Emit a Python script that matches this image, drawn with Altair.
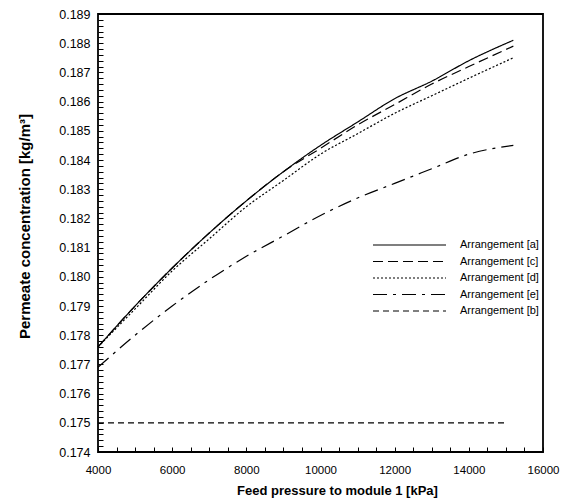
import altair as alt
import numpy as np
import pandas as pd

# ---- data ----
pressure = [4000, 5000, 6000, 7000, 8000, 9000, 10000, 11000, 12000, 13000, 14000, 15200]
conc_a = [0.1776, 0.1790, 0.1803, 0.1815, 0.1826, 0.1836, 0.1845, 0.1853, 0.1861, 0.1867, 0.1874, 0.1881]
conc_c = [0.1776, 0.1790, 0.1803, 0.1815, 0.1826, 0.1836, 0.1844, 0.1852, 0.1859, 0.1866, 0.1872, 0.1879]
conc_d = [0.1776, 0.1789, 0.1802, 0.1813, 0.1824, 0.1833, 0.1842, 0.1849, 0.1856, 0.1862, 0.1868, 0.1875]
conc_e = [0.1769, 0.1780, 0.1790, 0.1799, 0.1807, 0.1814, 0.1821, 0.1827, 0.1832, 0.1837, 0.1842, 0.1845]
pressure_b = [4000, 15000]
conc_b = [0.1750, 0.1750]

series_names = ["Arrangement [a]", "Arrangement [c]", "Arrangement [d]",
                "Arrangement [e]", "Arrangement [b]"]
dash_styles = [[1, 0], [10, 5], [2, 2], [14, 6, 3, 6], [6, 4]]

# tick positions (labels shown on major ones only)
x_ticks = [int(v) for v in np.arange(4000, 16001, 500)]
y_ticks = [round(float(v), 4) for v in np.arange(0.174, 0.18901, 0.0002)]

rows = []
for name, vals in zip(series_names[:4], [conc_a, conc_c, conc_d, conc_e]):
    for p, v in zip(pressure, vals):
        rows.append({"series": name, "pressure": p, "conc": v})
for p, v in zip(pressure_b, conc_b):
    rows.append({"series": series_names[4], "pressure": p, "conc": v})
df = pd.DataFrame(rows)

xscale = alt.Scale(domain=[4000, 16000], nice=False, zero=False)
yscale = alt.Scale(domain=[0.174, 0.189], nice=False, zero=False)
FONT = "Liberation Sans"
TICK = 5

x_axis = alt.Axis(orient="bottom", values=x_ticks, offset=-TICK, tickSize=TICK,
                  tickColor="black", tickWidth=1, ticks=True, domain=False, zindex=1,
                  labelExpr="datum.value % 2000 === 0 ? format(datum.value, 'd') : ''",
                  labelPadding=12, labelFontSize=11.5, labelFont=FONT,
                  labelColor="black", labelFlush=False, labelOverlap=False,
                  title="Feed pressure to module 1 [kPa]", titleFont=FONT,
                  titleFontSize=13, titleFontWeight="bold",
                  titleX=239, titleY=38 + TICK, titleBaseline="middle",
                  titleColor="black", grid=False)
y_axis = alt.Axis(orient="left", values=y_ticks, offset=-TICK, tickSize=TICK,
                  tickColor="black", tickWidth=1, ticks=True, domain=False, zindex=1,
                  labelExpr="abs(datum.value * 1000 - round(datum.value * 1000)) < 0.001 ? format(datum.value, '.3f') : ''",
                  labelPadding=8, labelFontSize=12.5, labelFont=FONT,
                  labelColor="black", labelFlush=False, labelOverlap=False,
                  title="Permeate concentration [kg/m³]", titleFont=FONT,
                  titleFontSize=15, titleFontWeight="bold",
                  titleX=-66 - TICK, titleY=212,
                  titleColor="black", grid=False)

chart = alt.Chart(df).mark_line(color="black", strokeWidth=1.2, interpolate="monotone").encode(
    x=alt.X("pressure:Q", scale=xscale, axis=x_axis),
    y=alt.Y("conc:Q", scale=yscale, axis=y_axis),
    strokeDash=alt.StrokeDash(
        "series:N",
        scale=alt.Scale(domain=series_names, range=dash_styles),
        legend=alt.Legend(orient="none", legendX=337, legendY=225, title=None,
                          symbolType="M-13.6,0H1", symbolSize=100, symbolStrokeWidth=1.2,
                          symbolStrokeColor="black", labelFont=FONT, labelFontSize=11,
                          labelColor="black", rowPadding=5.5, labelOffset=13, padding=0),
    ),
    order=alt.Order("pressure:Q"),
).properties(
    width=445, height=438,
    autosize=alt.AutoSizeParams(type="none"),
    padding={"left": 98, "top": 14, "right": 25, "bottom": 49},
    background="white",
).configure_view(
    stroke="black", strokeWidth=1.8, fill="transparent"
).configure_axis(grid=False)

chart.save("out.html", embed_options={"renderer": "svg", "actions": False})
